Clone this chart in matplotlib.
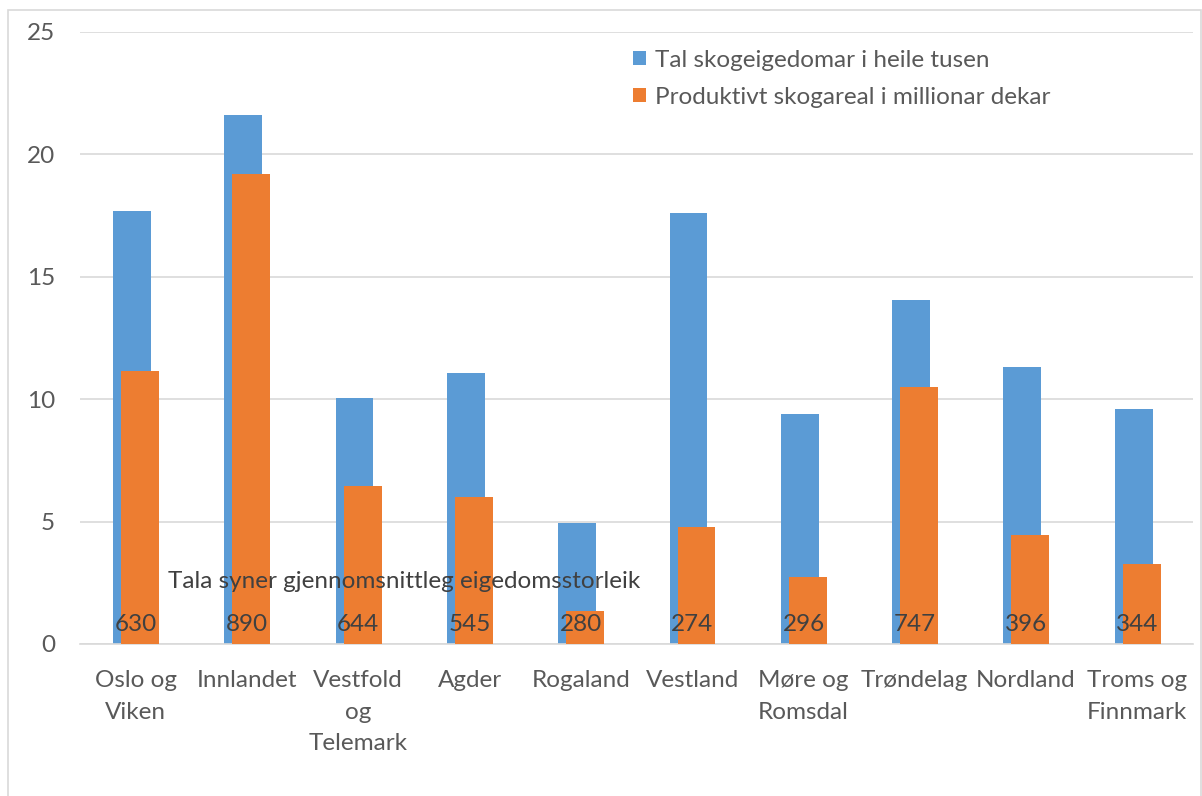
import matplotlib
matplotlib.use("Agg")
import matplotlib.pyplot as plt
from matplotlib.patches import Rectangle

categories = ["Oslo og\nViken", "Innlandet", "Vestfold\nog\nTelemark", "Agder", "Rogaland",
              "Vestland", "Møre og\nRomsdal", "Trøndelag", "Nordland", "Troms og\nFinnmark"]
eigedomar = [17.7, 21.6, 10.05, 11.07, 4.94, 17.6, 9.4, 14.05, 11.3, 9.6]
skogareal = [11.15, 19.2, 6.45, 6.0, 1.35, 4.78, 2.74, 10.5, 4.45, 3.27]
snitt = [630, 890, 644, 545, 280, 274, 296, 747, 396, 344]
yticks = [0, 5, 10, 15, 20, 25]
label_blue = "Tal skogeigedomar i heile tusen"
label_orange = "Produktivt skogareal i millionar dekar"
note = "Tala syner gjennomsnittleg eigedomsstorleik"

plt.rcParams['font.family'] = ['Lato', 'DejaVu Sans']
txt = '#595959'
fs = 17.5

fig = plt.figure(figsize=(12.02, 7.96), dpi=100)
fig.patches.append(Rectangle((8/1202, -0.05), 1 - 8/1202 - 0.001, 1.05 - 10/796, transform=fig.transFigure,
                             fill=False, edgecolor='#d9d9d9', linewidth=1.2))
ax = fig.add_axes([80/1202, 1 - 644/796, (1193 - 80)/1202, (644 - 32)/796])

x = list(range(len(categories)))
w = 0.34
ax.bar([i - 0.033 for i in x], eigedomar, width=w, color='#5B9BD5', label=label_blue, zorder=2)
ax.bar([i + 0.039 for i in x], skogareal, width=w, color='#ED7D31', label=label_orange, zorder=3)

for i, v in enumerate(snitt):
    ax.text(i, 0.35, str(v), ha='center', va='bottom', fontsize=fs, color='#404040', zorder=4)
ax.text(0.29, 2.55, note, ha='left', va='center', fontsize=fs, color='#404040', zorder=4)

ax.set_xlim(-0.5, len(categories) - 0.5)
ax.set_ylim(0, 25)
ax.set_yticks(yticks)
ax.set_xticks(x)
ax.set_xticklabels(categories, fontsize=fs, color=txt, linespacing=1.6)
ax.tick_params(axis='y', labelsize=fs, colors=txt, length=0, pad=18)
ax.tick_params(axis='x', length=0, pad=19)
ax.yaxis.grid(True, color='#d9d9d9', linewidth=1.2, zorder=0)
ax.set_axisbelow(True)
for s in ['top', 'right', 'left']:
    ax.spines[s].set_visible(False)
ax.spines['bottom'].set_color('#d9d9d9')
ax.spines['bottom'].set_linewidth(1.2)

leg = ax.legend(loc='upper left', bbox_to_anchor=(543/1113, 1.0 - 8/612), frameon=False, fontsize=fs,
                borderaxespad=0, borderpad=0.4,
                handlelength=0.55, handleheight=0.55, handletextpad=0.35, labelspacing=0.66)
for t in leg.get_texts():
    t.set_color(txt)

fig.savefig("out.png", dpi=100)
